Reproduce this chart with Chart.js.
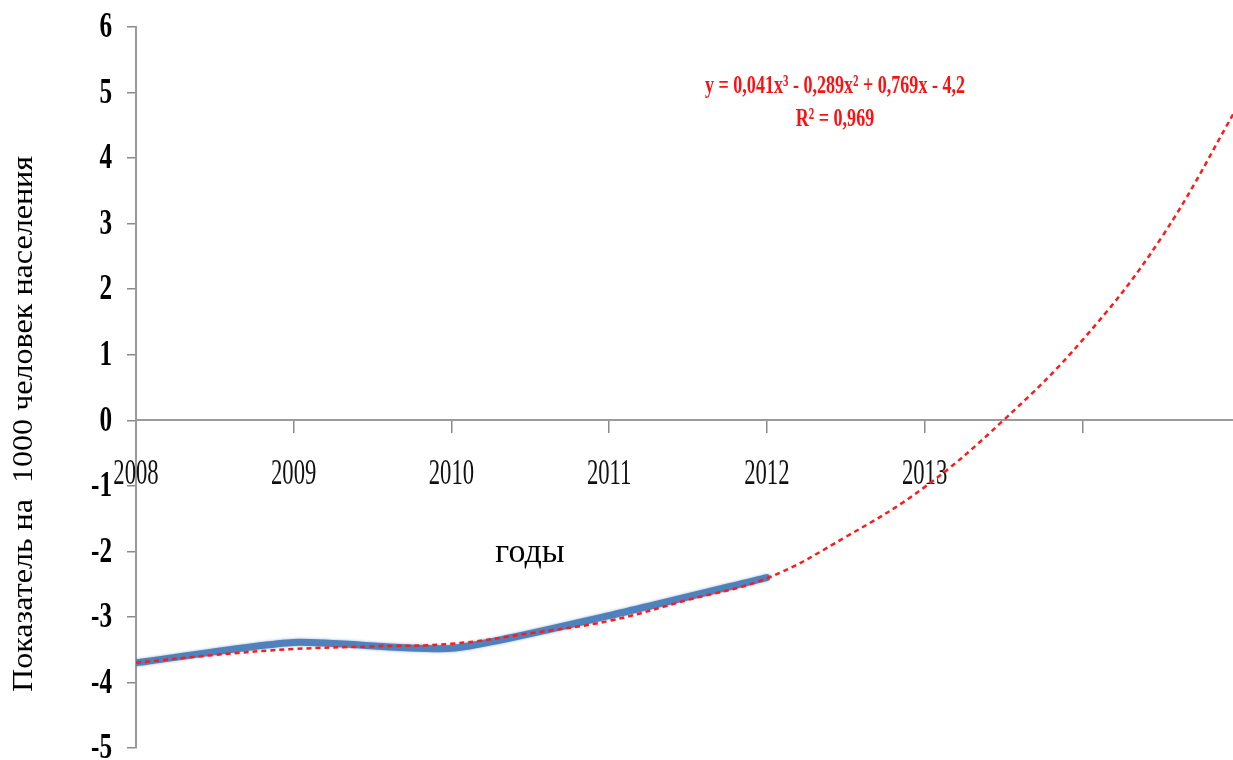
<!DOCTYPE html>
<html>
<head>
<meta charset="utf-8">
<script src="https://cdn.jsdelivr.net/npm/chart.js@4.4.1/dist/chart.umd.min.js"></script>
<style>
  html, body { margin: 0; padding: 0; background: #ffffff; overflow: hidden; }
  canvas { display: block; }
</style>
</head>
<body>
<canvas id="chart" width="1241" height="760"></canvas>
<script>
// Observed rate per 1000 population, by year
const years = [2008, 2009, 2010, 2011, 2012];
const rateValues = [-3.70, -3.39, -3.48, -2.98, -2.40];

// Polynomial trend line (3rd order), sampled every half year and extended to 2015
const trendYears = [2008, 2008.5, 2009, 2009.5, 2010, 2010.5, 2011, 2011.5, 2012, 2012.5, 2013, 2013.5, 2014, 2014.5, 2015];
const trendValues = [-3.70, -3.58, -3.49, -3.45, -3.41, -3.25, -3.06, -2.74, -2.41, -1.78, -1.02, 0.00, 1.22, 2.78, 4.85];

// Axis ticks and labels
const xTickYears = [2008, 2009, 2010, 2011, 2012, 2013, 2014, 2015];
const yearLabels = ['2008', '2009', '2010', '2011', '2012', '2013'];
const yTicks = [6, 5, 4, 3, 2, 1, 0, -1, -2, -3, -4, -5];

const yTitle = 'Показатель на  1000 человек населения';
const xTitle = 'годы';
const trendEquation = 'y = 0,041x³ - 0,289x² + 0,769x - 4,2';
const trendR2 = 'R² = 0,969';

const SERIF = '"Liberation Serif", "Times New Roman", "DejaVu Serif", serif';
const AXIS_GREY = '#9a9a9a';
const TICK_GREY = '#8a8a8a';

// Draws a horizontally condensed text run (narrow Times-like lettering)
function drawText(ctx, text, x, y, font, sx, align, color) {
  ctx.save();
  ctx.font = font;
  ctx.fillStyle = color || '#000000';
  ctx.textAlign = align || 'center';
  ctx.textBaseline = 'middle';
  ctx.translate(x, y);
  ctx.scale(sx, 1);
  ctx.fillText(text, 0, 0);
  ctx.restore();
}

const axisLabels = {
  id: 'axisLabels',
  beforeDatasetsDraw(chart) {
    const ctx = chart.ctx;
    const xs = chart.scales.x;
    const ys = chart.scales.y;
    const zeroY = ys.getPixelForValue(0);

    // y tick labels
    yTicks.forEach(v => {
      drawText(ctx, String(v), 112, ys.getPixelForValue(v) + 1,
        'bold 36px ' + SERIF, 0.7, 'right', '#000000');
    });

    // x tick labels, hung below the zero line
    yearLabels.forEach(lbl => {
      drawText(ctx, lbl, xs.getPixelForValue(Number(lbl)), zeroY + 54,
        '36px ' + SERIF, 0.63, 'center', '#111111');
    });

    // x axis title
    drawText(ctx, xTitle, 530, 553, '34px ' + SERIF, 1, 'center', '#000000');

    // y axis title, rotated
    ctx.save();
    ctx.font = '30px ' + SERIF;
    const w = ctx.measureText(yTitle).width;
    const sx = 536 / w;
    ctx.translate(24, 424);
    ctx.rotate(-Math.PI / 2);
    ctx.scale(sx, 1);
    ctx.fillStyle = '#000000';
    ctx.textAlign = 'center';
    ctx.textBaseline = 'middle';
    ctx.fillText(yTitle, 0, 0);
    ctx.restore();
  },
  afterDatasetsDraw(chart) {
    const ctx = chart.ctx;
    const font = 'bold 26px ' + SERIF;
    ctx.save();
    ctx.font = font;
    const sx = 260 / ctx.measureText(trendEquation).width;
    ctx.restore();
    drawText(ctx, trendEquation, 835, 86, font, sx, 'center', '#ff1010');
    drawText(ctx, trendR2, 835, 119, font, sx, 'center', '#ff1010');
  }
};

// Soft edge on the thick observed-data line
const softLine = {
  id: 'softLine',
  beforeDatasetDraw(chart, args) {
    if (chart.data.datasets[args.index].label === 'rate') {
      chart.ctx.save();
      chart.ctx.shadowColor = 'rgba(79,129,189,0.6)';
      chart.ctx.shadowBlur = 3;
    }
  },
  afterDatasetDraw(chart, args) {
    if (chart.data.datasets[args.index].label === 'rate') {
      chart.ctx.restore();
    }
  }
};

new Chart(document.getElementById('chart'), {
  type: 'line',
  data: {
    datasets: [
      {
        label: 'trend',
        data: trendYears.map((x, i) => ({ x, y: trendValues[i] })),
        borderColor: '#ff1a1a',
        borderWidth: 2.5,
        borderDash: [5, 4],
        pointRadius: 0,
        tension: 0.4,
        fill: false,
        order: 1
      },
      {
        label: 'rate',
        data: years.map((x, i) => ({ x, y: rateValues[i] })),
        borderColor: '#4f81bd',
        borderWidth: 7,
        pointRadius: 0,
        tension: 0.2,
        borderCapStyle: 'round',
        borderJoinStyle: 'round',
        fill: false,
        order: 2
      }
    ]
  },
  options: {
    responsive: false,
    animation: false,
    devicePixelRatio: 1,
    layout: { padding: { top: 27, bottom: 12, left: 0, right: 1 } },
    plugins: { legend: { display: false }, tooltip: { enabled: false } },
    scales: {
      x: {
        type: 'linear',
        min: 2008,
        max: 2015,
        position: { y: 0 },
        afterBuildTicks: s => { s.ticks = xTickYears.map(v => ({ value: v })); },
        ticks: { display: false },
        grid: {
          drawOnChartArea: false,
          drawTicks: true,
          tickLength: 12,
          lineWidth: 1.5,
          color: c => (c.tick && (c.tick.value === 2008 || c.tick.value === 2015)) ? 'rgba(0,0,0,0)' : TICK_GREY
        },
        border: { color: AXIS_GREY, width: 2 }
      },
      y: {
        type: 'linear',
        min: -5,
        max: 6,
        position: 'left',
        afterBuildTicks: s => { s.ticks = yTicks.map(v => ({ value: v })); },
        afterFit: s => { s.width = 136; },
        ticks: { display: false },
        grid: {
          drawOnChartArea: false,
          drawTicks: true,
          tickLength: 9,
          lineWidth: 1.5,
          color: TICK_GREY
        },
        border: { color: AXIS_GREY, width: 2 }
      }
    }
  },
  plugins: [axisLabels, softLine]
});
</script>
</body>
</html>
